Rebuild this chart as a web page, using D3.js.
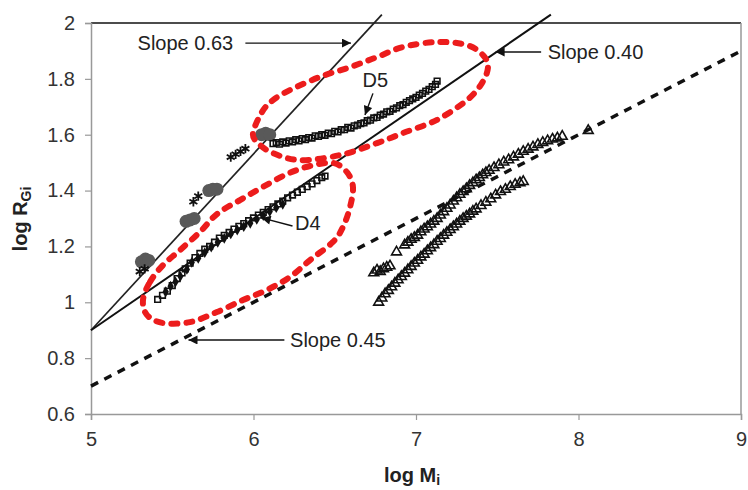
<!DOCTYPE html>
<html>
    <head>
        <meta charset="utf-8" />
        <script src="https://d3js.org/d3.v7.min.js"></script>
        <style>
            body {
                margin: 0;
                background-color: white;
                font-family: 'Liberation Sans', Arial, sans-serif;
            }
        </style>
    </head>
    <body>
        <svg></svg>
        <script>
            // axis ticks
            const xTicks = [5, 6, 7, 8, 9]
            const yTicks = [0.6, 0.8, 1, 1.2, 1.4, 1.6, 1.8, 2]
            const yTickLabels = ['0.6', '0.8', '1', '1.2', '1.4', '1.6', '1.8', '2']

            // fitted lines (log Mi, log RGi) end points
            const slope063 = [[5, 0.9], [6.79, 2.03]]
            const slope040 = [[5, 0.9], [7.83, 2.03]]
            const slope045 = [[5, 0.7], [9, 1.9]]

            // gray blobs on the 0.63 line
            const blobs = [
                [5.31, 1.145], [5.335, 1.155], [5.355, 1.15],
                [5.585, 1.29], [5.61, 1.295], [5.635, 1.3],
                [5.725, 1.4], [5.75, 1.405], [5.775, 1.405],
                [6.05, 1.6], [6.075, 1.605], [6.1, 1.6],
            ]
            // star markers
            const stars = [
                [5.3, 1.11], [5.33, 1.12],
                [5.63, 1.36], [5.66, 1.38],
                [5.86, 1.52], [5.89, 1.53], [5.92, 1.54], [5.95, 1.55],
            ]
            // D5 open squares
            const d5 = [
                [6.12, 1.568], [6.14, 1.572], [6.16, 1.566], [6.18, 1.574], [6.2, 1.57],
                [6.22, 1.578], [6.24, 1.574], [6.26, 1.582], [6.28, 1.578], [6.3, 1.586],
                [6.32, 1.582], [6.34, 1.59], [6.36, 1.588], [6.38, 1.596], [6.4, 1.594],
                [6.42, 1.6], [6.44, 1.598], [6.46, 1.606], [6.48, 1.604], [6.5, 1.612],
                [6.52, 1.61], [6.54, 1.618], [6.56, 1.618], [6.58, 1.626], [6.6, 1.624],
                [6.62, 1.632], [6.64, 1.634], [6.66, 1.64], [6.68, 1.642], [6.7, 1.65],
                [6.72, 1.652], [6.74, 1.66], [6.76, 1.662], [6.78, 1.67], [6.8, 1.674],
                [6.82, 1.682], [6.84, 1.684], [6.86, 1.692], [6.88, 1.696], [6.9, 1.704],
                [6.92, 1.708], [6.94, 1.716], [6.96, 1.722], [6.98, 1.728], [7.0, 1.734],
                [7.02, 1.742], [7.04, 1.748], [7.06, 1.756], [7.08, 1.762], [7.1, 1.772],
                [7.12, 1.78], [7.13, 1.792],
            ]
            // D4 open squares
            const d4 = [
                [5.41, 1.01], [5.44, 1.025], [5.47, 1.04], [5.5, 1.06], [5.53, 1.085],
                [5.56, 1.105], [5.58, 1.12], [5.61, 1.14], [5.64, 1.16], [5.67, 1.175],
                [5.7, 1.19], [5.73, 1.2], [5.76, 1.215], [5.79, 1.23], [5.82, 1.24],
                [5.85, 1.25], [5.88, 1.262], [5.91, 1.272], [5.94, 1.282], [5.97, 1.292],
                [6.0, 1.302], [6.03, 1.312], [6.06, 1.322], [6.09, 1.332], [6.12, 1.342],
                [6.15, 1.352], [6.18, 1.362], [6.21, 1.374], [6.24, 1.384], [6.27, 1.394],
                [6.3, 1.404], [6.33, 1.414], [6.36, 1.424], [6.39, 1.436], [6.42, 1.446],
                [6.44, 1.452],
            ]
            // D4 filled diamonds
            const d4Filled = [
                [5.46, 1.045], [5.49, 1.065], [5.52, 1.08], [5.55, 1.1], [5.59, 1.125],
                [5.62, 1.15], [5.66, 1.165], [5.7, 1.185], [5.74, 1.205], [5.78, 1.222],
                [5.82, 1.236], [5.86, 1.252], [5.9, 1.266], [5.94, 1.278], [5.98, 1.29],
                [6.02, 1.304], [6.06, 1.318], [6.1, 1.332], [6.14, 1.346], [6.18, 1.358],
            ]
            // open triangles, upper branch
            const triUpper = [
                [6.74, 1.105], [6.76, 1.115], [6.78, 1.11], [6.8, 1.12], [6.82, 1.125],
                [6.84, 1.13], [6.88, 1.18], [6.93, 1.205], [6.95, 1.215], [6.97, 1.225],
                [6.99, 1.232], [7.01, 1.24], [7.03, 1.252], [7.05, 1.262], [7.07, 1.27],
                [7.09, 1.28], [7.11, 1.29], [7.13, 1.3], [7.15, 1.312], [7.17, 1.324],
                [7.19, 1.336], [7.21, 1.348], [7.23, 1.362], [7.25, 1.374], [7.27, 1.386],
                [7.29, 1.396], [7.31, 1.406], [7.33, 1.418], [7.35, 1.428], [7.37, 1.438],
                [7.39, 1.446], [7.41, 1.456], [7.43, 1.464], [7.45, 1.472], [7.48, 1.482],
                [7.51, 1.492], [7.54, 1.502], [7.57, 1.51], [7.6, 1.52], [7.63, 1.53],
                [7.66, 1.54], [7.69, 1.548], [7.72, 1.556], [7.75, 1.565], [7.78, 1.572],
                [7.81, 1.578], [7.84, 1.584], [7.87, 1.588], [7.9, 1.594], [8.06, 1.615],
            ]
            // open triangles, lower branch
            const triLower = [
                [6.77, 1.0], [6.79, 1.015], [6.81, 1.03], [6.83, 1.042], [6.85, 1.055],
                [6.87, 1.068], [6.89, 1.08], [6.91, 1.092], [6.93, 1.104], [6.95, 1.116],
                [6.97, 1.128], [6.99, 1.14], [7.01, 1.15], [7.03, 1.162], [7.05, 1.172],
                [7.07, 1.184], [7.09, 1.195], [7.11, 1.206], [7.13, 1.218], [7.15, 1.228],
                [7.17, 1.24], [7.19, 1.25], [7.21, 1.26], [7.23, 1.27], [7.25, 1.28],
                [7.27, 1.29], [7.29, 1.3], [7.31, 1.308], [7.33, 1.316], [7.35, 1.326],
                [7.37, 1.334], [7.4, 1.346], [7.43, 1.358], [7.46, 1.37], [7.49, 1.384],
                [7.52, 1.396], [7.55, 1.404], [7.58, 1.414], [7.61, 1.422], [7.64, 1.428],
                [7.66, 1.432],
            ]

            // red dashed outlines round the D5 and D4 groups
            const d5Outline = [
                [5.997, 1.606], [6.052, 1.681], [6.12, 1.724], [6.225, 1.76], [6.409, 1.807],
                [6.594, 1.842], [6.76, 1.878], [6.92, 1.914], [7.129, 1.932], [7.314, 1.921],
                [7.412, 1.885], [7.443, 1.842], [7.406, 1.785], [7.314, 1.724], [7.129, 1.653],
                [6.92, 1.606], [6.76, 1.57], [6.532, 1.527], [6.286, 1.509], [6.12, 1.534],
                [6.028, 1.57],
            ]
            const d4Outline = [
                [5.32, 1.008], [5.363, 1.073], [5.443, 1.133], [5.548, 1.187], [5.671, 1.252],
                [5.775, 1.316], [5.917, 1.366], [6.058, 1.413], [6.206, 1.459], [6.348, 1.488],
                [6.489, 1.499], [6.575, 1.466], [6.612, 1.413], [6.594, 1.341], [6.551, 1.27],
                [6.489, 1.216], [6.348, 1.151], [6.225, 1.091], [6.083, 1.044], [5.935, 1.008],
                [5.775, 0.965], [5.609, 0.929], [5.443, 0.926], [5.345, 0.954],
            ]

            // annotation arrows and labels
            const arrows = [
                { from: [5.95, 1.928], to: [6.6, 1.928] },
                { from: [7.77, 1.896], to: [7.49, 1.896] },
                { from: [6.19, 0.865], to: [5.6, 0.865] },
                { from: [6.735, 1.748], to: [6.686, 1.671] },
                { from: [6.24, 1.273], to: [6.05, 1.302] },
            ]
            const labels = [
                { text: 'Slope 0.63', at: [5.875, 1.928], anchor: 'end' },
                { text: 'Slope 0.40', at: [7.81, 1.896], anchor: 'start' },
                { text: 'Slope 0.45', at: [6.225, 0.865], anchor: 'start' },
                { text: 'D5', at: [6.75, 1.795], anchor: 'middle' },
                { text: 'D4', at: [6.255, 1.283], anchor: 'start' },
            ]

            const width = 748
            const height = 490
            const margin = { top: 23, right: 7, bottom: 76, left: 91 }

            const svg = d3
                .select('svg')
                .attr('width', width)
                .attr('height', height)

            const x = d3
                .scaleLinear()
                .domain([5, 9])
                .range([margin.left, width - margin.right])
            const y = d3
                .scaleLinear()
                .domain([0.6, 2])
                .range([height - margin.bottom, margin.top])

            // frame: black top edge, gray right edge
            svg.append('line')
                .attr('x1', x(5))
                .attr('x2', x(9))
                .attr('y1', y(2))
                .attr('y2', y(2))
                .style('stroke', '#111')
                .style('stroke-width', 1.5)
            svg.append('line')
                .attr('x1', x(9))
                .attr('x2', x(9))
                .attr('y1', y(2))
                .attr('y2', y(0.6))
                .style('stroke', '#999')
                .style('stroke-width', 1.5)

            const xAxis = svg
                .append('g')
                .attr('transform', `translate(0,${y(0.6)})`)
                .call(
                    d3.axisBottom(x)
                        .tickValues(xTicks)
                        .tickFormat(d3.format('d'))
                        .tickSize(6)
                        .tickPadding(12)
                )
            const yAxis = svg
                .append('g')
                .attr('transform', `translate(${x(5)},0)`)
                .call(
                    d3.axisLeft(y)
                        .tickValues(yTicks)
                        .tickFormat((d, i) => yTickLabels[i])
                        .tickSize(6)
                        .tickPadding(10)
                )
            ;[xAxis, yAxis].forEach((g) => {
                g.select('.domain').style('stroke', '#999').style('stroke-width', 1.5)
                g.selectAll('.tick line').style('stroke', '#999').style('stroke-width', 1.2)
                g.selectAll('.tick text')
                    .style('font-family', "'Liberation Sans', Arial, sans-serif")
                    .style('font-size', '20px')
                    .style('fill', '#333')
            })

            // axis titles
            const xTitle = svg
                .append('text')
                .attr('x', 412)
                .attr('y', 482)
                .attr('text-anchor', 'middle')
                .style('font-size', '20px')
                .style('font-weight', 'bold')
                .style('fill', '#222')
                .text('log M')
            xTitle.append('tspan')
                .attr('dy', 3)
                .style('font-size', '14px')
                .text('i')

            const yTitle = svg
                .append('text')
                .attr('transform', 'translate(27,219) rotate(-90)')
                .attr('text-anchor', 'middle')
                .style('font-size', '20px')
                .style('font-weight', 'bold')
                .style('fill', '#222')
                .text('log R')
            yTitle.append('tspan')
                .attr('dy', 4)
                .style('font-size', '14px')
                .text('Gi')

            const line = d3
                .line()
                .x((d) => x(d[0]))
                .y((d) => y(d[1]))

            // fitted lines
            svg.append('path')
                .datum(slope063)
                .attr('d', line)
                .style('fill', 'none')
                .style('stroke', '#222')
                .style('stroke-width', 1.7)
            svg.append('path')
                .datum(slope040)
                .attr('d', line)
                .style('fill', 'none')
                .style('stroke', '#111')
                .style('stroke-width', 2)
            svg.append('path')
                .datum(slope045)
                .attr('d', line)
                .style('fill', 'none')
                .style('stroke', '#111')
                .style('stroke-width', 3.5)
                .style('stroke-dasharray', '8 7')

            // gray blobs
            svg.append('g')
                .selectAll('circle')
                .data(blobs)
                .enter()
                .append('circle')
                .attr('cx', (d) => x(d[0]))
                .attr('cy', (d) => y(d[1]))
                .attr('r', 6.5)
                .style('fill', '#595959')

            const symbol = (type, size) => d3.symbol().type(type).size(size)()

            // stars
            svg.append('g')
                .selectAll('path')
                .data(stars)
                .enter()
                .append('path')
                .attr('transform', (d) => `translate(${x(d[0])},${y(d[1])})`)
                .attr('d', symbol(d3.symbolAsterisk || d3.symbolCross, 60))
                .style('fill', '#111')
                .style('stroke', '#111')
                .style('stroke-width', 1.8)

            // squares
            svg.append('g')
                .selectAll('path')
                .data(d4.concat(d5))
                .enter()
                .append('path')
                .attr('transform', (d) => `translate(${x(d[0])},${y(d[1])})`)
                .attr('d', symbol(d3.symbolSquare, 32))
                .style('fill', 'none')
                .style('stroke', '#111')
                .style('stroke-width', 1.6)

            svg.append('g')
                .selectAll('path')
                .data(d4Filled)
                .enter()
                .append('path')
                .attr('transform', (d) => `translate(${x(d[0])},${y(d[1]) + 2})`)
                .attr('d', symbol(d3.symbolDiamond, 34))
                .style('fill', '#111')

            // triangles
            svg.append('g')
                .selectAll('path')
                .data(triUpper.concat(triLower))
                .enter()
                .append('path')
                .attr('transform', (d) => `translate(${x(d[0])},${y(d[1])})`)
                .attr('d', symbol(d3.symbolTriangle, 42))
                .style('fill', 'none')
                .style('stroke', '#111')
                .style('stroke-width', 1.6)

            // red dashed outlines
            const outline = d3
                .line()
                .x((d) => x(d[0]))
                .y((d) => y(d[1]))
                .curve(d3.curveCardinalClosed)
            svg.append('g')
                .selectAll('path')
                .data([d5Outline, d4Outline])
                .enter()
                .append('path')
                .attr('d', outline)
                .style('fill', 'none')
                .style('stroke', '#ec1c1c')
                .style('stroke-width', 6)
                .style('stroke-linecap', 'round')
                .style('stroke-dasharray', '6 9')

            // arrows
            svg.append('defs')
                .append('marker')
                .attr('id', 'head')
                .attr('markerUnits', 'userSpaceOnUse')
                .attr('viewBox', '0 -5 10 10')
                .attr('refX', 10)
                .attr('refY', 0)
                .attr('markerWidth', 11)
                .attr('markerHeight', 9)
                .attr('orient', 'auto')
                .append('path')
                .attr('d', 'M0,-5L10,0L0,5Z')
                .style('fill', '#111')

            svg.append('g')
                .selectAll('line')
                .data(arrows)
                .enter()
                .append('line')
                .attr('x1', (d) => x(d.from[0]))
                .attr('y1', (d) => y(d.from[1]))
                .attr('x2', (d) => x(d.to[0]))
                .attr('y2', (d) => y(d.to[1]))
                .attr('marker-end', 'url(#head)')
                .style('stroke', '#111')
                .style('stroke-width', 1.4)

            svg.append('g')
                .selectAll('text')
                .data(labels)
                .enter()
                .append('text')
                .attr('x', (d) => x(d.at[0]))
                .attr('y', (d) => y(d.at[1]))
                .attr('dy', '0.35em')
                .attr('text-anchor', (d) => d.anchor)
                .style('font-size', '20px')
                .style('fill', '#222')
                .text((d) => d.text)
        </script>
    </body>
</html>
